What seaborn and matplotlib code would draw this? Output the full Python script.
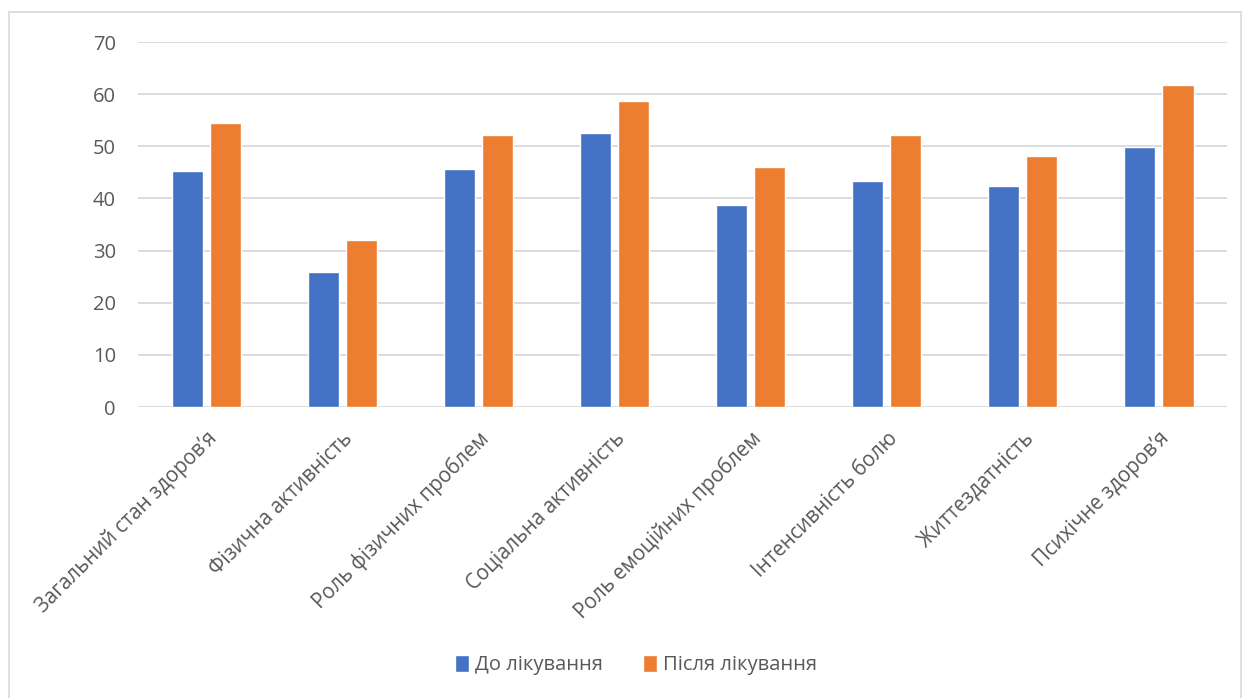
import matplotlib
matplotlib.use("Agg")
import matplotlib.pyplot as plt
import matplotlib.transforms as mtransforms
from matplotlib.patches import Rectangle
import pandas as pd
import seaborn as sns

categories = [
    "Загальний стан здоров’я",
    "Фізична активність",
    "Роль фізичних проблем",
    "Соціальна активність",
    "Роль емоційних проблем",
    "Інтенсивність болю",
    "Життездатність",
    "Психічне здоров’я",
]
before = [45.2, 25.9, 45.6, 52.6, 38.8, 43.4, 42.3, 49.8]
after = [54.4, 32.0, 52.2, 58.6, 46.0, 52.1, 48.2, 61.7]
series_names = ["До лікування", "Після лікування"]
y_ticks = [0, 10, 20, 30, 40, 50, 60, 70]

df = pd.DataFrame({
    "category": categories * 2,
    "value": before + after,
    "series": [series_names[0]] * len(categories) + [series_names[1]] * len(categories),
})

sns.set_theme(style="white")
plt.rcParams["font.family"] = ["Open Sans", "DejaVu Sans"]

fig = plt.figure(figsize=(12.47, 6.98), dpi=100)
ax = fig.add_axes([0.1107, 0.4169, 0.8733, 0.5229])

palette = {series_names[0]: "#4472C4", series_names[1]: "#ED7D31"}
sns.barplot(
    data=df, x="category", y="value", hue="series", order=categories,
    hue_order=series_names, palette=palette, width=0.559, gap=0.184,
    saturation=1, ax=ax, legend=True,
)

ax.set_ylim(0, 70)
ax.set_xlim(-0.5, len(categories) - 0.5)
ax.set_yticks(y_ticks)
ax.yaxis.grid(True, color="#d9d9d9", linewidth=1.3)
ax.set_axisbelow(True)
for side in ["top", "right", "left", "bottom"]:
    ax.spines[side].set_visible(False)
ax.set_xlabel("")
ax.set_ylabel("")
ax.tick_params(axis="y", length=0, pad=16, labelsize=14.5, labelcolor="#595959")
ax.tick_params(axis="x", length=0, pad=15, labelsize=14.8, labelcolor="#595959")

shift = mtransforms.ScaledTranslation(0.0, 0.0, fig.dpi_scale_trans)
for lbl in ax.get_xticklabels():
    lbl.set_rotation(45)
    lbl.set_ha("right")
    lbl.set_va("top")
    lbl.set_rotation_mode("anchor")
    lbl.set_transform(lbl.get_transform() + shift)

ax.legend(
    loc="center", bbox_to_anchor=(0.51, 0.047), bbox_transform=fig.transFigure,
    ncol=2, frameon=False, fontsize=14.5, labelcolor="#595959",
    handlelength=0.7, handleheight=0.9, handletextpad=0.3, columnspacing=2.0,
)

fig.patches.append(Rectangle((0.007, -0.01), 0.988, 0.993, transform=fig.transFigure,
                             fill=False, edgecolor="#d9d9d9", linewidth=1.2))

fig.savefig("out.png", dpi=100)
